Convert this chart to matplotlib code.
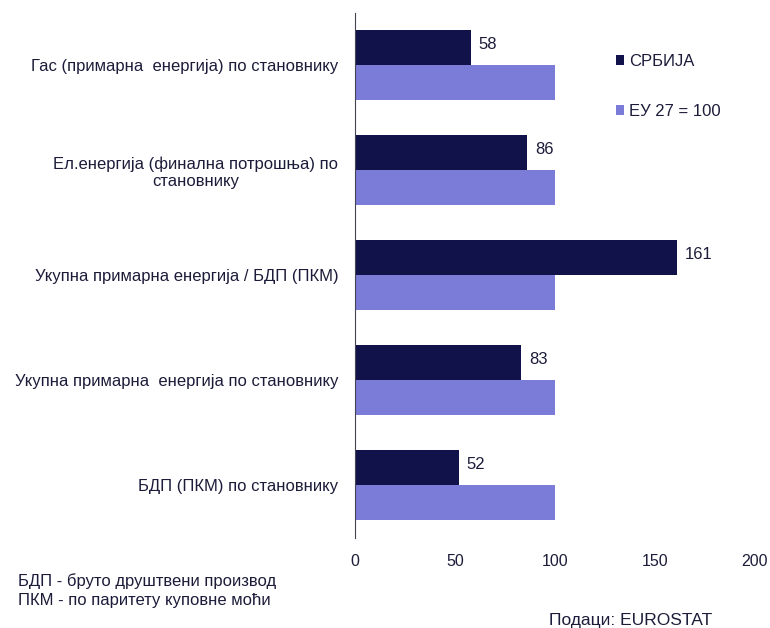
import numpy as np
import matplotlib.pyplot as plt

plt.rcParams['font.family'] = ['Liberation Sans', 'DejaVu Sans']

categories = [
    'Гас (примарна  енергија) по становнику',
    'Ел.енергија (финална потрошња) по\nстановнику',
    'Укупна примарна енергија / БДП (ПКМ)',
    'Укупна примарна  енергија по становнику',
    'БДП (ПКМ) по становнику',
]
srbija = [58, 86, 161, 83, 52]
eu27 = [100, 100, 100, 100, 100]
xticks = [0, 50, 100, 150, 200]

dark = '#11124a'
light = '#7b7bd8'
txt = '#1c1c3a'

fig = plt.figure(figsize=(7.7, 6.28), dpi=100)
ax = fig.add_axes([0.461, 0.144, 0.519, 0.836])

y = np.arange(len(categories))
h = 0.333
ax.barh(y - h / 2, srbija, height=h, color=dark, label='СРБИЈА')
ax.barh(y + h / 2, eu27, height=h, color=light, label='ЕУ 27 = 100')

for yi, v in zip(y, srbija):
    ax.text(v + 4, yi - h / 2 - 0.03, str(v), va='center', ha='left',
            fontsize=12, color=txt)

ax.set_ylim(-0.5, len(categories) - 0.5)
ax.invert_yaxis()
ax.set_xlim(0, 200)
ax.set_xticks(xticks)
ax.set_xticklabels([str(t) for t in xticks], fontsize=11.5, color=txt)
ax.set_yticks(y)
ax.set_yticklabels(categories, fontsize=12, color=txt, multialignment='center')
ax.tick_params(axis='both', length=0)
ax.tick_params(axis='x', pad=12)
ax.tick_params(axis='y', pad=12)

for s in ['top', 'right', 'bottom']:
    ax.spines[s].set_visible(False)
ax.spines['left'].set_color('#444455')

ax.legend(loc='upper left', bbox_to_anchor=(0.615, 0.95), frameon=False,
          fontsize=12, handlelength=0.5, handleheight=0.5, handletextpad=0.3,
          labelspacing=2.1, labelcolor=txt)

fig.text(18 / 770, 1 - 581 / 628, 'БДП - бруто друштвени производ', fontsize=12,
         color=txt, va='center')
fig.text(18 / 770, 1 - 601 / 628, 'ПКМ - по паритету куповне моћи', fontsize=12,
         color=txt, va='center')
fig.text(549 / 770, 1 - 620 / 628, 'Подаци: EUROSTAT', fontsize=12.5,
         color=txt, va='center')

fig.savefig('out.png', dpi=100)
